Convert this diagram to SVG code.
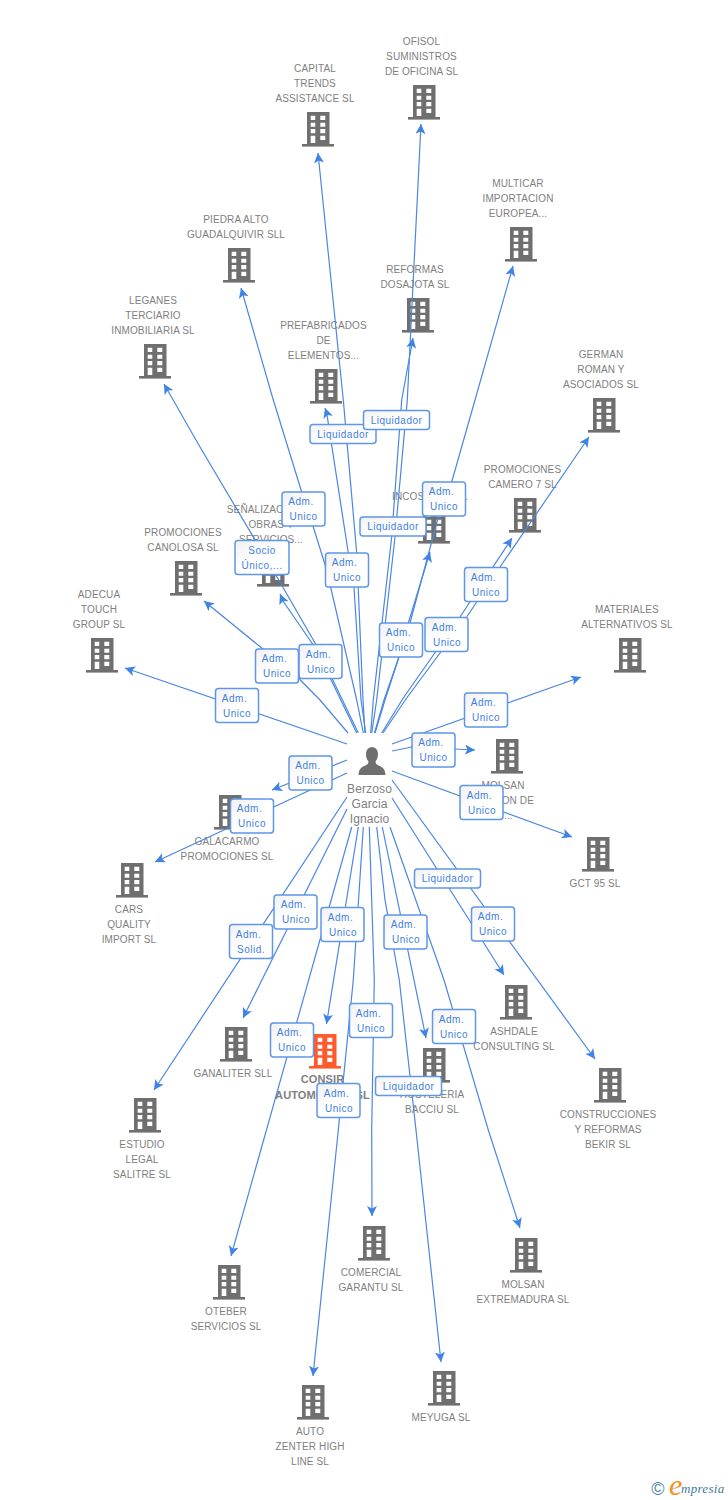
<svg xmlns="http://www.w3.org/2000/svg" width="728" height="1500" viewBox="0 0 728 1500">
<style>
text{font-family:"Liberation Sans",Arial,sans-serif}
.n text{font-size:10px;fill:#808080;text-anchor:middle;letter-spacing:.12px}
.b{color:#6f6f6f}
.r{color:#ff5a2c}
#edges line,#edges polyline{stroke:#4a86e2;stroke-width:1.2;fill:none;marker-end:url(#ah)}
#labels rect{fill:url(#bg);stroke:#5f96e8;stroke-width:1.5}
#labels text{font-size:10px;fill:#3f7fe0;text-anchor:middle;letter-spacing:.5px}
</style>
<defs>
<linearGradient id="bg" x1="0" y1="0" x2="1" y2="1"><stop offset="0" stop-color="#f1f1f1"/><stop offset=".5" stop-color="#fff"/></linearGradient>
<marker id="ah" markerUnits="userSpaceOnUse" markerWidth="12" markerHeight="12" refX="10" refY="5" orient="auto"><path d="M0,0L10,5L0,10L2.5,5Z" fill="#3f83e4"/></marker>
<g id="bld"><path fill="currentColor" fill-rule="evenodd" d="M5,0H27.5V33H5ZM8.700,3.700V8H13.300V3.700ZM18.300,3.700V8H23.300V3.700ZM8.700,10.700V14.700H13.300V10.700ZM18.300,10.700V14.700H23.300V10.700ZM8.700,17V21.300H13.300V17ZM18.300,17V21.300H23.300V17ZM8.700,23.700V31H13.300V23.700ZM18.300,23.700V28H23.300V23.700Z"/><rect y="32" width="32" height="2.600" fill="currentColor"/></g>
</defs>
<g id="nodes" class="n">
<g id="capital"><use href="#bld" class="b" x="302" y="112"/><text x="315" y="72">CAPITAL</text><text x="315" y="87">TRENDS</text><text x="315" y="102">ASSISTANCE SL</text></g>
<g id="ofisol"><use href="#bld" class="b" x="408" y="85"/><text x="421.500" y="45">OFISOL</text><text x="421.500" y="60">SUMINISTROS</text><text x="421.500" y="75">DE OFICINA SL</text></g>
<g id="multicar"><use href="#bld" class="b" x="505" y="227"/><text x="518" y="187">MULTICAR</text><text x="518" y="202">IMPORTACION</text><text x="518" y="217">EUROPEA...</text></g>
<g id="reformas"><use href="#bld" class="b" x="402" y="298"/><text x="415" y="273">REFORMAS</text><text x="415" y="288">DOSAJOTA SL</text></g>
<g id="piedra"><use href="#bld" class="b" x="223" y="248"/><text x="236" y="223">PIEDRA ALTO</text><text x="236" y="238">GUADALQUIVIR SLL</text></g>
<g id="leganes"><use href="#bld" class="b" x="139" y="344"/><text x="153" y="304">LEGANES</text><text x="153" y="319">TERCIARIO</text><text x="153" y="334">INMOBILIARIA SL</text></g>
<g id="prefabricados"><use href="#bld" class="b" x="310" y="369"/><text x="323.500" y="329">PREFABRICADOS</text><text x="323.500" y="344">DE</text><text x="323.500" y="359">ELEMENTOS...</text></g>
<g id="german"><use href="#bld" class="b" x="588" y="398"/><text x="601" y="358">GERMAN</text><text x="601" y="373">ROMAN Y</text><text x="601" y="388">ASOCIADOS SL</text></g>
<g id="camero"><use href="#bld" class="b" x="509" y="498"/><text x="522.500" y="473">PROMOCIONES</text><text x="522.500" y="488">CAMERO 7 SL</text></g>
<g id="incos"><use href="#bld" class="b" x="418" y="509"/><text y="500" style="text-anchor:start"><tspan x="392">INCOS</tspan><tspan x="462">L</tspan></text></g>
<g id="senalizaciones"><use href="#bld" class="b" x="257" y="552"/><text x="271" y="513">SEÑALIZACIONES</text><text x="271" y="528">OBRAS Y</text><text x="271" y="543">SERVICIOS...</text></g>
<g id="canolosa"><use href="#bld" class="b" x="170" y="561"/><text x="183" y="536">PROMOCIONES</text><text x="183" y="551">CANOLOSA SL</text></g>
<g id="adecua"><use href="#bld" class="b" x="86" y="638"/><text x="99" y="598">ADECUA</text><text x="99" y="613">TOUCH</text><text x="99" y="628">GROUP SL</text></g>
<g id="materiales"><use href="#bld" class="b" x="614" y="638"/><text x="627" y="613">MATERIALES</text><text x="627" y="628">ALTERNATIVOS SL</text></g>
<g id="molsan"><use href="#bld" class="b" x="491" y="739"/><text x="503" y="789">MOLSAN</text><text x="534" y="804" style="text-anchor:end">ON DE</text><text x="504" y="819" style="text-anchor:start">...</text></g>
<g id="gct"><use href="#bld" class="b" x="582" y="837"/><text x="595" y="887">GCT 95 SL</text></g>
<g id="galacarmo"><use href="#bld" class="b" x="214" y="795"/><text x="227" y="845">GALACARMO</text><text x="227" y="860">PROMOCIONES SL</text></g>
<g id="cars"><use href="#bld" class="b" x="116" y="863"/><text x="129" y="913">CARS</text><text x="129" y="928">QUALITY</text><text x="129" y="943">IMPORT SL</text></g>
<g id="ashdale"><use href="#bld" class="b" x="500" y="985"/><text x="514" y="1035">ASHDALE</text><text x="514" y="1050">CONSULTING SL</text></g>
<g id="ganaliter"><use href="#bld" class="b" x="220" y="1027"/><text x="233" y="1077">GANALITER SLL</text></g>
<g id="consir"><use href="#bld" class="r" x="309" y="1034"/><text x="322.500" y="1083" style="font-size:11px;font-weight:bold">CONSIR</text><text x="322.500" y="1099" style="font-size:11px;font-weight:bold">AUTOMOCION SL</text></g>
<g id="hosteleria"><use href="#bld" class="b" x="418" y="1048"/><text x="432" y="1098">HOSTELERIA</text><text x="432" y="1113">BACCIU  SL</text></g>
<g id="construcciones"><use href="#bld" class="b" x="594" y="1068"/><text x="608" y="1118">CONSTRUCCIONES</text><text x="608" y="1133">Y REFORMAS</text><text x="608" y="1148">BEKIR SL</text></g>
<g id="estudio"><use href="#bld" class="b" x="129" y="1098"/><text x="142" y="1148">ESTUDIO</text><text x="142" y="1163">LEGAL</text><text x="142" y="1178">SALITRE SL</text></g>
<g id="comercial"><use href="#bld" class="b" x="358" y="1226"/><text x="371" y="1276">COMERCIAL</text><text x="371" y="1291">GARANTU SL</text></g>
<g id="molsanext"><use href="#bld" class="b" x="510" y="1238"/><text x="523" y="1288">MOLSAN</text><text x="523" y="1303">EXTREMADURA SL</text></g>
<g id="oteber"><use href="#bld" class="b" x="213" y="1265"/><text x="226" y="1315">OTEBER</text><text x="226" y="1330">SERVICIOS  SL</text></g>
<g id="meyuga"><use href="#bld" class="b" x="428" y="1371"/><text x="441" y="1421">MEYUGA SL</text></g>
<g id="auto"><use href="#bld" class="b" x="297" y="1385"/><text x="310" y="1435">AUTO</text><text x="310" y="1450">ZENTER HIGH</text><text x="310" y="1465">LINE SL</text></g>
<g id="person"><path fill="#6f6f6f" d="M371.500,747c4,0 6.500,3 6.500,7c0,3 -1,5.500 -2.500,7.500c0,2 1,3 3,4c4,1.500 6.500,3 7,9.500h-27c.5,-6.500 3,-8 7,-9.500c2,-1 3,-2 3,-4c-1.500,-2 -2.500,-4.500 -2.500,-7.500c0,-4 2.500,-7 6.500,-7Z"/><text x="369.500" y="793" style="font-size:12px">Berzoso</text><text x="369.500" y="808" style="font-size:12px">Garcia</text><text x="369.500" y="823" style="font-size:12px">Ignacio</text></g>
</g>
<g id="edges">
<polyline points="365,733 363,700 356.700,553 343.300,400 318,153"/>
<polyline points="371.700,733 376.700,700 395,537 407.300,400 421,124"/>
<polyline points="375,733 385,700 410,623 438.300,517 451.700,482 475,400 513,266"/>
<polyline points="370.700,733 373.300,700 391.700,537 401.700,400 413,338"/>
<polyline points="363.300,733 356.700,700 326.700,570 313.300,527 301.700,492 273.300,400 241,288"/>
<polyline points="358.300,733 315,643 277,577 200,447 164,384"/>
<polyline points="365.700,733 361,700 354,587 348.300,553 326.700,413 325,408"/>
<polyline points="383,733 406.700,698 466.700,617 500,567 589,437"/>
<polyline points="381.700,733 403.300,698 460,617 512,538"/>
<polyline points="374.500,733 384,700 399,657 408.300,623 430,552"/>
<polyline points="356.700,733 316.700,650 283,601 280,594"/>
<polyline points="348,733 320,700 299.300,679 261.700,648 204,601"/>
<line x1="347" y1="744" x2="125" y2="668"/>
<line x1="392" y1="744" x2="581" y2="677"/>
<polyline points="392,751 412,747 455,749 475,750"/>
<line x1="392" y1="771" x2="572" y2="837"/>
<line x1="347" y1="760" x2="272" y2="790"/>
<line x1="347" y1="773" x2="155" y2="862"/>
<line x1="347" y1="797" x2="154" y2="1090"/>
<line x1="347" y1="809" x2="243" y2="1018"/>
<line x1="351.700" y1="827" x2="231" y2="1256"/>
<polyline points="363.300,827 353.300,980 338.300,1130 313,1376"/>
<line x1="358.300" y1="827" x2="326.500" y2="1024"/>
<polyline points="369.300,827 374.300,980 371.700,1130 372,1216"/>
<polyline points="376.700,827 385,900 399.300,980 416,1130 441,1362"/>
<line x1="382.300" y1="827" x2="426" y2="1038"/>
<polyline points="390,827 444,980 488.300,1130 520,1228"/>
<line x1="392" y1="798" x2="504" y2="975"/>
<line x1="392" y1="780" x2="595" y2="1059"/>
</g>
<g id="labels">
<g><rect x="282" y="492" width="43" height="34" rx="3"/><text x="303" y="505" dx="-2">Adm.</text><text x="303.500" y="520">Unico</text></g>
<g><rect x="235" y="540.500" width="54" height="34" rx="3"/><text x="262" y="554">Socio</text><text x="262" y="569">Único,...</text></g>
<g><rect x="325.500" y="553" width="43" height="34" rx="3"/><text x="346.500" y="566" dx="-2">Adm.</text><text x="347" y="581">Unico</text></g>
<g><rect x="310" y="424.500" width="66" height="19" rx="3"/><text x="343" y="438">Liquidador</text></g>
<g><rect x="363.500" y="410.500" width="66" height="19" rx="3"/><text x="396.500" y="424">Liquidador</text></g>
<g><rect x="360" y="517" width="66" height="19" rx="3"/><text x="393" y="530">Liquidador</text></g>
<g><rect x="422.500" y="482" width="43" height="34" rx="3"/><text x="443.500" y="495" dx="-2">Adm.</text><text x="444" y="510">Unico</text></g>
<g><rect x="464.500" y="567.500" width="43" height="34" rx="3"/><text x="485.500" y="581" dx="-2">Adm.</text><text x="486" y="596">Unico</text></g>
<g><rect x="425" y="617.500" width="43" height="34" rx="3"/><text x="446.500" y="631" dx="-2">Adm.</text><text x="447" y="646">Unico</text></g>
<g><rect x="379.500" y="623" width="43" height="34" rx="3"/><text x="400.500" y="636" dx="-2">Adm.</text><text x="401" y="651">Unico</text></g>
<g><rect x="299" y="644.500" width="43" height="34" rx="3"/><text x="320.500" y="658" dx="-2">Adm.</text><text x="321" y="673">Unico</text></g>
<g><rect x="255.500" y="649" width="43" height="34" rx="3"/><text x="276.500" y="662" dx="-2">Adm.</text><text x="277" y="677">Unico</text></g>
<g><rect x="215.500" y="688.500" width="43" height="34" rx="3"/><text x="236.500" y="702" dx="-2">Adm.</text><text x="237" y="717">Unico</text></g>
<g><rect x="464.500" y="693" width="43" height="34" rx="3"/><text x="485.500" y="706" dx="-2">Adm.</text><text x="486" y="721">Unico</text></g>
<g><rect x="412" y="733" width="43" height="34" rx="3"/><text x="433" y="746" dx="-2">Adm.</text><text x="433.500" y="761">Unico</text></g>
<g><rect x="289" y="756" width="43" height="34" rx="3"/><text x="310" y="769" dx="-2">Adm.</text><text x="310.500" y="784">Unico</text></g>
<g><rect x="230.500" y="799" width="43" height="34" rx="3"/><text x="251.500" y="812" dx="-2">Adm.</text><text x="252" y="827">Unico</text></g>
<g><rect x="460" y="785.500" width="43" height="34" rx="3"/><text x="481.500" y="799" dx="-2">Adm.</text><text x="482" y="814">Unico</text></g>
<g><rect x="414.500" y="869" width="66" height="19" rx="3"/><text x="447.500" y="882">Liquidador</text></g>
<g><rect x="274" y="895" width="43" height="34" rx="3"/><text x="295.500" y="908" dx="-2">Adm.</text><text x="296" y="923">Unico</text></g>
<g><rect x="229.500" y="924.500" width="43" height="34" rx="3"/><text x="250.500" y="938" dx="-2">Adm.</text><text x="251" y="953">Solid.</text></g>
<g><rect x="321" y="907.500" width="43" height="34" rx="3"/><text x="342.500" y="921" dx="-2">Adm.</text><text x="343" y="936">Unico</text></g>
<g><rect x="384" y="915" width="43" height="34" rx="3"/><text x="405.500" y="928" dx="-2">Adm.</text><text x="406" y="943">Unico</text></g>
<g><rect x="471.500" y="907" width="43" height="34" rx="3"/><text x="492.500" y="920" dx="-2">Adm.</text><text x="493" y="935">Unico</text></g>
<g><rect x="270.500" y="1023" width="43" height="34" rx="3"/><text x="291.500" y="1036" dx="-2">Adm.</text><text x="292" y="1051">Unico</text></g>
<g><rect x="349.500" y="1003.500" width="43" height="34" rx="3"/><text x="370.500" y="1017" dx="-2">Adm.</text><text x="371" y="1032">Unico</text></g>
<g><rect x="432.500" y="1009.500" width="43" height="34" rx="3"/><text x="453.500" y="1023" dx="-2">Adm.</text><text x="454" y="1038">Unico</text></g>
<g><rect x="317" y="1083.500" width="43" height="34" rx="3"/><text x="338.500" y="1097" dx="-2">Adm.</text><text x="339" y="1112">Unico</text></g>
<g><rect x="375.500" y="1076.500" width="66" height="19" rx="3"/><text x="408.500" y="1090">Liquidador</text></g>
</g>
<g id="logo"><text x="658" y="1495" style="font-size:18px;fill:#4d8aa3;text-anchor:middle">©</text><text x="669" y="1495" style="font-family:'Liberation Serif',serif;font-style:italic;font-size:30px;fill:#f7931e">e</text><text x="681" y="1493" style="font-family:'Liberation Serif',serif;font-style:italic;font-size:13px;fill:#3f7c99;letter-spacing:.3px">mpresia</text></g>
</svg>
